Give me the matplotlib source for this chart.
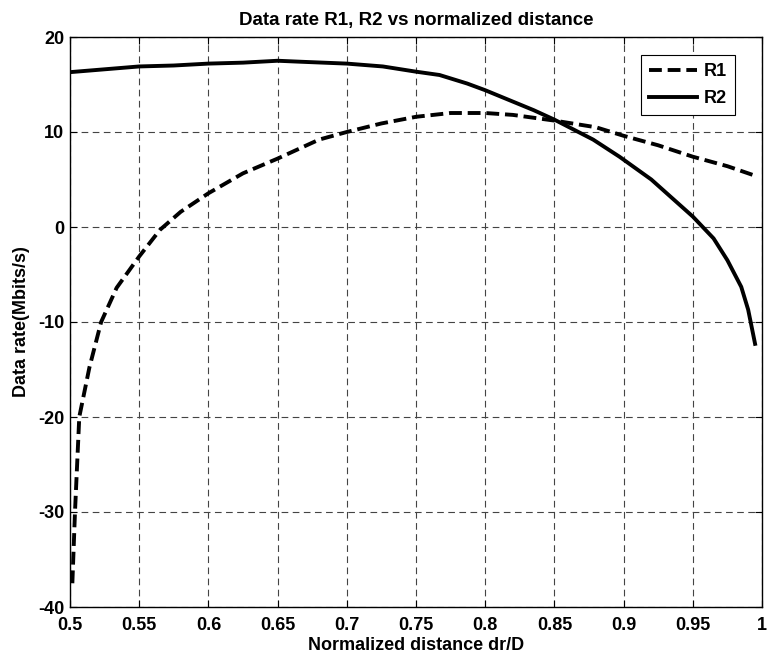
import matplotlib
matplotlib.use("Agg")
import matplotlib.pyplot as plt

plt.rcParams['font.family'] = ['Liberation Sans', 'DejaVu Sans']
plt.rcParams['axes.unicode_minus'] = False

# R1 (dashed)
r1_x = [0.5017, 0.5036, 0.5067, 0.514, 0.5225, 0.5337, 0.55, 0.565, 0.58, 0.6, 0.625,
        0.65, 0.68, 0.70, 0.725, 0.75, 0.775, 0.80, 0.82, 0.85, 0.88, 0.90, 0.925,
        0.95, 0.975, 0.995]
r1_y = [-37.5, -30, -20, -14.8, -10, -6.4, -3.1, -0.3, 1.6, 3.55, 5.65,
        7.2, 9.2, 10.0, 10.9, 11.6, 12.0, 12.0, 11.8, 11.2, 10.5, 9.6, 8.6,
        7.4, 6.4, 5.4]
# R2 (solid)
r2_x = [0.5, 0.525, 0.55, 0.575, 0.6, 0.625, 0.65, 0.666, 0.70, 0.726, 0.75, 0.767,
        0.787, 0.80, 0.815, 0.835, 0.85, 0.878, 0.897, 0.92, 0.95, 0.965, 0.975,
        0.985, 0.99, 0.995]
r2_y = [16.3, 16.6, 16.9, 17.0, 17.2, 17.3, 17.5, 17.4, 17.2, 16.9, 16.35, 16.0,
        15.1, 14.4, 13.5, 12.3, 11.3, 9.2, 7.4, 5.0, 1.1, -1.2, -3.5,
        -6.3, -8.7, -12.3]

xticks = [0.5, 0.55, 0.6, 0.65, 0.7, 0.75, 0.8, 0.85, 0.9, 0.95, 1]
xtick_labels = ["0.5", "0.55", "0.6", "0.65", "0.7", "0.75", "0.8", "0.85", "0.9", "0.95", "1"]
yticks = [-40, -30, -20, -10, 0, 10, 20]

fig = plt.figure(figsize=(7.67, 6.58), dpi=100)
ax = fig.add_axes([70/767, 1-607/658, 692/767, 570/658])

ax.plot(r1_x, r1_y, color='black', lw=2.8, linestyle=(0, (3.3, 1.5)), label='R1')
ax.plot(r2_x, r2_y, color='black', lw=2.8, linestyle='-', label='R2')

ax.set_xlim(0.5, 1)
ax.set_ylim(-40, 20)
ax.set_xticks(xticks)
ax.set_xticklabels(xtick_labels)
ax.set_yticks(yticks)
ax.grid(True, color='#444444', linestyle=(0, (6, 4)), linewidth=0.8)
ax.tick_params(direction='in', top=True, right=True, length=5, width=0.8,
               labelsize=13)
ax.tick_params(axis='x', pad=7)
ax.tick_params(axis='y', pad=4)
for lab in ax.get_xticklabels() + ax.get_yticklabels():
    lab.set_fontweight('bold')
for s in ax.spines.values():
    s.set_linewidth(1.0)

ax.set_title("Data rate R1, R2 vs normalized distance", fontsize=13.5, fontweight='bold', pad=9)
ax.set_xlabel("Normalized distance dr/D", fontsize=13, fontweight='bold', labelpad=2)
ax.set_ylabel("Data rate(Mbits/s)", fontsize=13, fontweight='bold', labelpad=6)

leg = ax.legend(loc='upper right', bbox_to_anchor=(0.961, 0.968), borderaxespad=0,
                fancybox=False, edgecolor='black', framealpha=1,
                prop={'weight': 'bold', 'size': 13},
                handlelength=2.7, borderpad=0.45, labelspacing=0.55, handletextpad=0.35)
leg.get_frame().set_linewidth(0.8)

fig.savefig("out.png", dpi=100)
